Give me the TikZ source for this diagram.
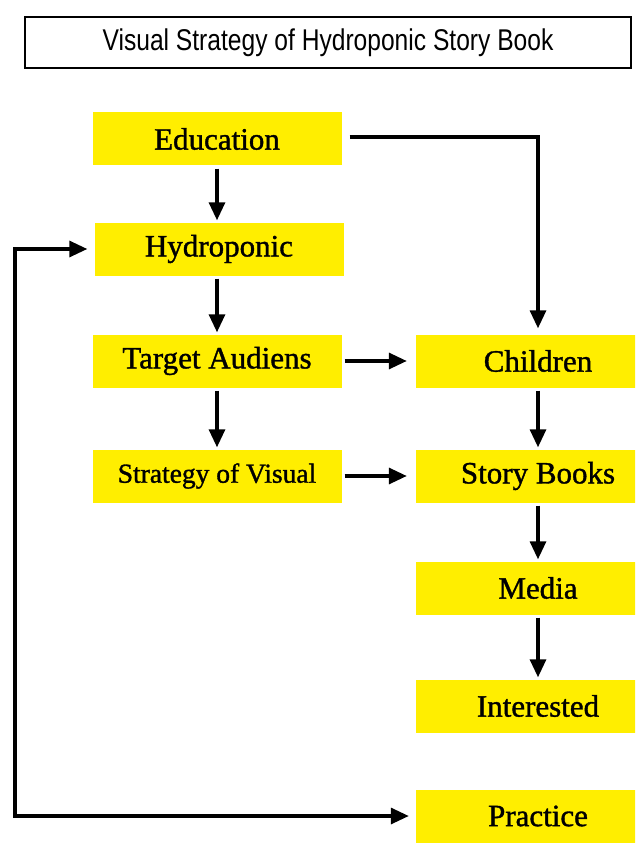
\documentclass[tikz,border=0pt]{standalone}
\usepackage{fontspec}
\setmainfont{Liberation Serif}
\newfontfamily\boxfont[FakeBold=1.2]{Liberation Serif}
\newfontfamily\titlefont[FakeStretch=0.82]{Liberation Sans}
\usetikzlibrary{arrows.meta}
\definecolor{boxyellow}{RGB}{255,238,0}
\tikzset{
  stepbox/.style={fill=boxyellow, minimum height=53pt, inner sep=0pt, font=\boxfont\fontsize{31}{34}\selectfont},
  leftbox/.style={stepbox, minimum width=249pt},
  rightbox/.style={stepbox, minimum width=244pt},
  flow/.style={line width=3.2pt, -{Triangle[length=18pt,width=16pt]}},
}
\begin{document}
\begin{tikzpicture}[x=1pt, y=-1pt]
\useasboundingbox (0,0) rectangle (635,845);
\clip (0,0) rectangle (635,845);
% title
\node[draw, line width=1.6pt, minimum width=606pt, minimum height=51pt, inner sep=0pt,
      font=\titlefont\fontsize{30}{32}\selectfont] (title) at (328,42.5) {Visual Strategy of Hydroponic Story Book};
% left column
\node[leftbox] (education)  at (217,139) {Education};
\node[leftbox] (hydroponic) at (219,249) {Hydroponic};
\node[leftbox] (target)     at (217,361) {Target Audiens};
\node[leftbox, font=\boxfont\fontsize{27.5}{30}\selectfont] (strategy) at (217,476) {Strategy of Visual};
% right column
\node[rightbox] (children)   at (538,361) {Children};
\node[rightbox] (storybooks) at (538,476) {Story Books};
\node[rightbox] (media)      at (538,588) {Media};
\node[rightbox] (interested) at (538,706) {Interested};
\node[rightbox] (practice)   at (538,816) {Practice};
\coordinate (loop) at (15,249);
% vertical arrows
\draw[flow, shorten <=3pt, shorten >=2pt] (education.south)  -- (education.south |- hydroponic.north);
\draw[flow, shorten <=3pt, shorten >=2pt] (target.north |- hydroponic.south) -- (target.north);
\draw[flow, shorten <=3pt, shorten >=2pt] (target)     -- (strategy);
\draw[flow, shorten <=3pt, shorten >=2pt] (children)   -- (storybooks);
\draw[flow, shorten <=3pt, shorten >=2pt] (storybooks) -- (media);
\draw[flow, shorten <=3pt, shorten >=2pt] (media)      -- (interested);
% horizontal arrows
\draw[flow, shorten <=8pt, shorten >=6pt] ([yshift=2pt]education.east) -| (children.north);
\draw[flow, shorten <=3pt, shorten >=9pt] (target)   -- (children);
\draw[flow, shorten <=3pt, shorten >=9pt] (strategy) -- (storybooks);
% feedback loop
\draw[flow, {Triangle[length=18pt,width=16pt]}-{Triangle[length=18pt,width=16pt]}, shorten <=7pt, shorten >=7pt]
  (hydroponic.west) -- (loop) |- (practice.west);
\end{tikzpicture}
\end{document}
